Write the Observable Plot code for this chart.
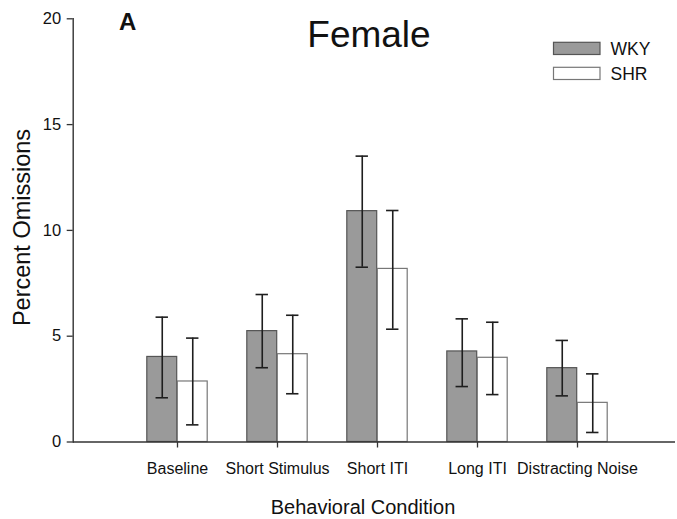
<!DOCTYPE html>
<html>
<head>
<meta charset="utf-8">
<script src="https://cdn.jsdelivr.net/npm/d3@7"></script>
<script src="https://cdn.jsdelivr.net/npm/@observablehq/plot@0.6"></script>
<style>
  html, body { margin: 0; padding: 0; background: #fff; }
  #wrap { position: relative; width: 677px; height: 519px; font-family: "Liberation Sans", Arial, sans-serif; }
  #overlay { position: absolute; left: 0; top: 0; pointer-events: none; }
</style>
</head>
<body>
<div id="wrap"></div>
<script>
// ---- data ----
const categories = ["Baseline", "Short Stimulus", "Short ITI", "Long ITI", "Distracting Noise"];
const groups = ["WKY", "SHR"];
const wkyMean = [4.02, 5.24, 10.91, 4.28, 3.49];
const wkyLow  = [2.09, 3.51, 8.26, 2.62, 2.18];
const wkyHigh = [5.90, 6.97, 13.51, 5.82, 4.80];
const shrMean = [2.86, 4.15, 8.18, 3.98, 1.85];
const shrLow  = [0.81, 2.28, 5.33, 2.24, 0.45];
const shrHigh = [4.91, 5.99, 10.94, 5.66, 3.22];
const yTicks = [0, 5, 10, 15, 20];
const title = "Female";
const panelLetter = "A";
const xLabel = "Behavioral Condition";
const yLabel = "Percent Omissions";

const wky = categories.map((c, i) => ({cat: c, mean: wkyMean[i], lo: wkyLow[i], hi: wkyHigh[i]}));
const shr = categories.map((c, i) => ({cat: c, mean: shrMean[i], lo: shrLow[i], hi: shrHigh[i]}));

const W = 677, H = 519;
const half = 50.3, barW = 30.5, capHalf = 6.5;
const errStroke = "#1e1e1e";

const chart = Plot.plot({
  width: W,
  height: H,
  marginLeft: 72.7,
  marginTop: 18.3,
  marginBottom: 77.5,
  marginRight: 2,
  style: {fontFamily: "'Liberation Sans', Arial, sans-serif", color: "#111", background: "#fff"},
  x: {type: "band", domain: categories, range: [125, 628], padding: 0},
  y: {domain: [0, 20]},
  marks: [
    Plot.barY(wky, {x: "cat", y: "mean", fill: "#9a9a9a", stroke: "#555", strokeWidth: 1.2,
      insetLeft: half - barW, insetRight: half}),
    Plot.barY(shr, {x: "cat", y: "mean", fill: "#fff", stroke: "#777", strokeWidth: 1.2,
      insetLeft: half, insetRight: half - barW}),
    Plot.ruleX(wky, {x: "cat", y1: "lo", y2: "hi", dx: -barW / 2, stroke: errStroke, strokeWidth: 1.6}),
    Plot.ruleX(shr, {x: "cat", y1: "lo", y2: "hi", dx: barW / 2, stroke: errStroke, strokeWidth: 1.6}),
    Plot.tickY(wky, {x: "cat", y: "hi", dx: -barW / 2, insetLeft: half - capHalf, insetRight: half - capHalf, stroke: errStroke, strokeWidth: 1.6}),
    Plot.tickY(wky, {x: "cat", y: "lo", dx: -barW / 2, insetLeft: half - capHalf, insetRight: half - capHalf, stroke: errStroke, strokeWidth: 1.6}),
    Plot.tickY(shr, {x: "cat", y: "hi", dx: barW / 2, insetLeft: half - capHalf, insetRight: half - capHalf, stroke: errStroke, strokeWidth: 1.6}),
    Plot.tickY(shr, {x: "cat", y: "lo", dx: barW / 2, insetLeft: half - capHalf, insetRight: half - capHalf, stroke: errStroke, strokeWidth: 1.6}),
    Plot.ruleY([0], {stroke: "#333", strokeWidth: 1.4}),
    Plot.frame({anchor: "left", stroke: "#333", strokeWidth: 1.4}),
    Plot.axisY({ticks: yTicks, tickSize: 6, tickPadding: 6, fontSize: 16.5, label: null, stroke: "#333", strokeWidth: 1.3}),
    Plot.axisX({tickSize: 6, tickPadding: 15, fontSize: 16, label: null, stroke: "#333", strokeWidth: 1.3})
  ]
});
document.getElementById("wrap").appendChild(chart);

// overlay: title, panel letter, axis titles, legend
const svg = d3.select("#wrap").append("svg").attr("id", "overlay")
  .attr("width", W).attr("height", H)
  .style("font-family", "'Liberation Sans', Arial, sans-serif");

svg.append("text").attr("x", 369).attr("y", 47).attr("text-anchor", "middle")
  .attr("font-size", 37).attr("fill", "#111").text(title);
svg.append("text").attr("x", 119).attr("y", 29.5)
  .attr("font-size", 24).attr("font-weight", "bold").attr("fill", "#111").text(panelLetter);
svg.append("text").attr("x", 363).attr("y", 514).attr("text-anchor", "middle")
  .attr("font-size", 20).attr("fill", "#111").text(xLabel);
svg.append("text").attr("transform", "translate(30,227.5) rotate(-90)").attr("text-anchor", "middle")
  .attr("font-size", 23.5).attr("fill", "#111").text(yLabel);

const legendFill = ["#9a9a9a", "#fff"];
const legendStroke = ["#555", "#777"];
groups.forEach((g, i) => {
  const y0 = 42.3 + i * 25;
  svg.append("rect").attr("x", 553.5).attr("y", y0).attr("width", 46.5).attr("height", 12.2)
    .attr("fill", legendFill[i]).attr("stroke", legendStroke[i]).attr("stroke-width", 1.2);
  svg.append("text").attr("x", 610.5).attr("y", y0 + 13).attr("font-size", 17.5)
    .attr("fill", "#111").text(g);
});
</script>
</body>
</html>
